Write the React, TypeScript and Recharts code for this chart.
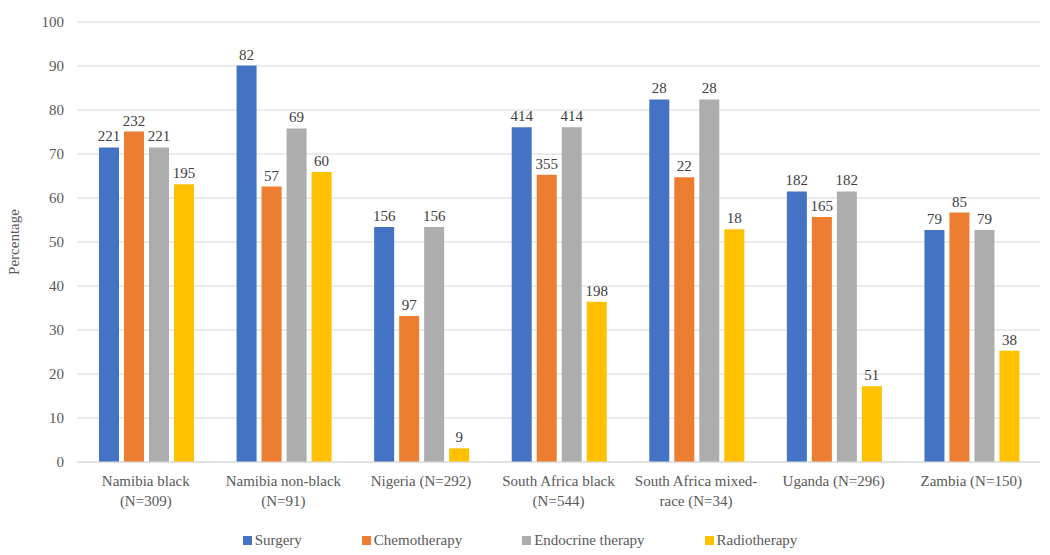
import { Bar, BarChart, CartesianGrid, LabelList, Legend, XAxis, YAxis } from "recharts";

const categories = [
  "Namibia black\n(N=309)",
  "Namibia non-black\n(N=91)",
  "Nigeria (N=292)",
  "South Africa black\n(N=544)",
  "South Africa mixed-\nrace (N=34)",
  "Uganda (N=296)",
  "Zambia (N=150)",
];

const surgeryPct = [71.5, 90.1, 53.4, 76.1, 82.4, 61.5, 52.7];
const chemoPct = [75.1, 62.6, 33.2, 65.3, 64.7, 55.7, 56.7];
const endocrinePct = [71.5, 75.8, 53.4, 76.1, 82.4, 61.5, 52.7];
const radioPct = [63.1, 65.9, 3.1, 36.4, 52.9, 17.2, 25.3];

const surgeryN = [221, 82, 156, 414, 28, 182, 79];
const chemoN = [232, 57, 97, 355, 22, 165, 85];
const endocrineN = [221, 69, 156, 414, 28, 182, 79];
const radioN = [195, 60, 9, 198, 18, 51, 38];

const yTicks = [0, 10, 20, 30, 40, 50, 60, 70, 80, 90, 100];

const series = [
  { key: "surgery", label: "Surgery", color: "#4472C4" },
  { key: "chemo", label: "Chemotherapy", color: "#ED7D31" },
  { key: "endocrine", label: "Endocrine therapy", color: "#ADADAD" },
  { key: "radio", label: "Radiotherapy", color: "#FFC000" },
];

const data = categories.map((name, i) => ({
  name,
  surgery: surgeryPct[i],
  chemo: chemoPct[i],
  endocrine: endocrinePct[i],
  radio: radioPct[i],
  surgeryN: surgeryN[i],
  chemoN: chemoN[i],
  endocrineN: endocrineN[i],
  radioN: radioN[i],
}));

const font = "Liberation Serif";

function CategoryTick({ x, y, payload }: any) {
  const lines = String(payload.value).split("\n");
  return (
    <text x={x} y={y + 16} textAnchor="middle" fill="#595959" fontSize={15} style={{ fontFamily: font }}>
      {lines.map((l, i) => (
        <tspan key={i} x={x} dy={i === 0 ? 0 : 20}>
          {l}
        </tspan>
      ))}
    </text>
  );
}

function LegendContent() {
  return (
    <div
      style={{
        display: "flex",
        justifyContent: "center",
        gap: 60,
        fontFamily: font,
        fontSize: 15,
        color: "#595959",
        paddingTop: 10,
      }}
    >
      {series.map((s) => (
        <div key={s.key} style={{ display: "flex", alignItems: "center" }}>
          <span style={{ width: 9, height: 9, background: s.color, marginRight: 3 }} />
          {s.label}
        </div>
      ))}
    </div>
  );
}

export default function App() {
  return (
    <div style={{ position: "absolute", left: 0, top: 0, background: "#fff" }}>
      <BarChart
        width={1050}
        height={555}
        data={data}
        margin={{ top: 22, right: 10, left: 0, bottom: 0 }}
        barCategoryGap="16%"
        barGap={5}
      >
        <CartesianGrid vertical={false} stroke="#d9d9d9" />
        <XAxis
          dataKey="name"
          axisLine={{ stroke: "#d9d9d9" }}
          tickLine={false}
          height={60}
          interval={0}
          tick={<CategoryTick />}
        />
        <YAxis
          domain={[0, 100]}
          ticks={yTicks}
          width={77}
          axisLine={false}
          tickLine={false}
          tickMargin={7}
          tick={{ fill: "#595959", fontSize: 15, style: { fontFamily: font } }}
          label={{
            value: "Percentage",
            angle: -90,
            position: "insideLeft",
            offset: 14,
            style: { fill: "#595959", fontSize: 15, fontFamily: font, textAnchor: "middle" },
          }}
        />
        <Legend verticalAlign="bottom" height={33} content={<LegendContent />} />
        {series.map((s) => (
          <Bar key={s.key} dataKey={s.key} fill={s.color} isAnimationActive={false}>
            <LabelList
              dataKey={`${s.key}N`}
              position="top"
              offset={6}
              fill="#404040"
              fontSize={15}
              style={{ fontFamily: font }}
            />
          </Bar>
        ))}
      </BarChart>
    </div>
  );
}
